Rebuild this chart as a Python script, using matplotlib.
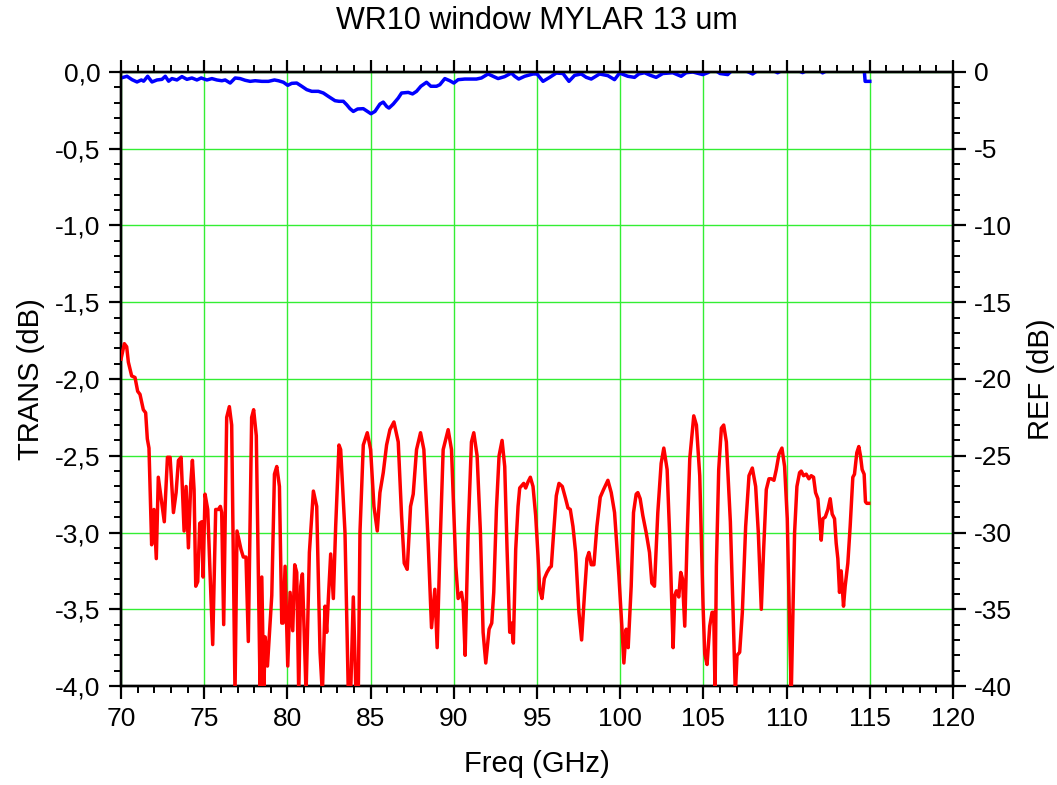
import matplotlib
matplotlib.use("Agg")
import matplotlib.pyplot as plt
from matplotlib.ticker import MultipleLocator, FuncFormatter

plt.rcParams["font.family"] = ["Liberation Sans", "DejaVu Sans"]
plt.rcParams["axes.unicode_minus"] = False

# transmission (left axis, dB)
trans_freq = [70.0, 70.36, 70.66, 70.96, 71.22, 71.36, 71.6, 71.86, 72.16, 72.46, 72.66, 72.86,
              73.06, 73.36, 73.66, 73.96, 74.26, 74.56, 74.82, 75.16, 75.46, 75.76, 76.06, 76.26,
              76.56, 76.86, 77.16, 77.46, 77.76, 78.06, 78.46, 78.86, 79.22, 79.46, 79.76, 80.02,
              80.26, 80.56, 80.86, 81.16, 81.46, 81.86, 82.16, 82.46, 82.86, 83.1, 83.36, 83.56,
              83.76, 83.96, 84.22, 84.56, 84.86, 85.02, 85.26, 85.56, 85.76, 85.96, 86.1, 86.36,
              86.66, 86.86, 87.26, 87.52, 87.76, 88.02, 88.36, 88.62, 88.96, 89.16, 89.46, 89.76,
              90.0, 90.26, 90.66, 91.36, 91.66, 92.06, 92.36, 92.66, 93.06, 93.46, 93.66, 93.9,
              94.26, 94.76, 95.0, 95.36, 95.76, 96.16, 96.56, 96.92, 97.26, 97.66, 97.96, 98.26,
              98.76, 99.26, 99.66, 99.96, 100.46, 100.86, 101.12, 101.46, 101.82, 102.16, 102.56,
              103.16, 103.66, 103.96, 104.36, 104.96, 105.26, 105.6, 106.0, 106.46, 106.8, 107.3,
              107.96, 108.4, 109.0, 109.46, 109.9, 110.5, 110.96, 111.4, 111.9, 112.16, 112.6,
              113.2, 113.8, 114.3, 114.66, 114.72, 115.0]
trans_db = [-0.039, -0.028, -0.05, -0.065, -0.052, -0.06, -0.028, -0.065, -0.052, -0.048, -0.028, -0.06,
            -0.043, -0.052, -0.03, -0.048, -0.039, -0.052, -0.039, -0.052, -0.043, -0.052, -0.057, -0.052,
            -0.072, -0.039, -0.043, -0.054, -0.061, -0.057, -0.061, -0.061, -0.052, -0.057, -0.067, -0.087,
            -0.074, -0.072, -0.093, -0.115, -0.126, -0.126, -0.137, -0.159, -0.187, -0.191, -0.191, -0.213,
            -0.239, -0.257, -0.241, -0.239, -0.261, -0.272, -0.257, -0.209, -0.196, -0.224, -0.235, -0.209,
            -0.17, -0.137, -0.133, -0.143, -0.126, -0.093, -0.067, -0.093, -0.093, -0.083, -0.043, -0.057,
            -0.072, -0.05, -0.046, -0.046, -0.039, -0.013, -0.028, -0.043, -0.03, -0.007, -0.028, -0.046,
            -0.028, -0.013, -0.013, -0.061, -0.035, -0.007, -0.01, -0.061, -0.022, -0.013, -0.035, -0.046,
            -0.013, -0.024, -0.05, -0.007, -0.028, -0.035, -0.013, -0.005, -0.022, -0.035, -0.01,
            -0.005, -0.028, -0.005, 0.0, -0.017, -0.005, 0.02, -0.01, -0.017, 0.02, 0.02,
            -0.013, 0.02, 0.02, -0.005, 0.02, 0.02, -0.004, 0.02, 0.02, -0.006, 0.02,
            0.02, 0.02, 0.02, 0.02, -0.061, -0.061]

# reflection (right axis, dB)
ref_freq = [70.0, 70.2, 70.34, 70.44, 70.64, 70.84, 71.0, 71.14, 71.34, 71.48, 71.58, 71.68, 71.84,
            71.98, 72.12, 72.24, 72.44, 72.6, 72.79, 72.95, 73.15, 73.31, 73.45, 73.61, 73.79, 73.91,
            74.05, 74.19, 74.29, 74.39, 74.49, 74.61, 74.73, 74.85, 74.93, 75.05, 75.21, 75.51, 75.69,
            75.85, 75.97, 76.05, 76.17, 76.35, 76.51, 76.65, 76.85, 76.97, 77.21, 77.35, 77.51, 77.65,
            77.85, 77.97, 78.13, 78.36, 78.46, 78.58, 78.66, 78.8, 79.06, 79.22, 79.36, 79.52, 79.66,
            79.74, 79.86, 80.02, 80.16, 80.32, 80.44, 80.56, 80.68, 80.8, 80.9, 81.12, 81.32, 81.56,
            81.76, 81.96, 82.1, 82.26, 82.36, 82.46, 82.6, 82.76, 82.9, 83.1, 83.2, 83.46, 83.66, 83.8,
            83.96, 84.12, 84.26, 84.36, 84.56, 84.8, 85.0, 85.2, 85.4, 85.56, 85.76, 85.96, 86.16, 86.4,
            86.66, 86.86, 87.02, 87.2, 87.4, 87.56, 87.76, 88.0, 88.2, 88.46, 88.66, 88.86, 89.0, 89.16,
            89.36, 89.66, 89.86, 90.12, 90.26, 90.46, 90.56, 90.68, 90.86, 91.06, 91.2, 91.4, 91.6,
            91.76, 91.92, 92.12, 92.28, 92.4, 92.56, 92.72, 92.9, 93.06, 93.2, 93.36, 93.46, 93.58,
            93.72, 93.86, 93.96, 94.12, 94.2, 94.32, 94.46, 94.6, 94.76, 94.92, 95.06, 95.16, 95.3,
            95.44, 95.6, 95.76, 95.86, 96.0, 96.16, 96.32, 96.52, 96.72, 96.86, 97.0, 97.16, 97.32,
            97.52, 97.68, 97.86, 98.0, 98.12, 98.26, 98.42, 98.6, 98.8, 99.0, 99.26, 99.46, 99.66,
            99.92, 100.12, 100.22, 100.36, 100.48, 100.66, 100.8, 100.96, 101.06, 101.2, 101.36,
            101.56, 101.76, 101.9, 102.06, 102.26, 102.46, 102.62, 102.82, 102.98, 103.18, 103.28,
            103.38, 103.52, 103.64, 103.74, 103.88, 104.02, 104.18, 104.42, 104.58, 104.78, 104.98,
            105.08, 105.22, 105.38, 105.52, 105.62, 105.7, 105.78, 105.92, 106.08, 106.22, 106.38,
            106.62, 106.78, 106.92, 107.02, 107.18, 107.34, 107.54, 107.74, 107.94, 108.14, 108.3,
            108.48, 108.62, 108.78, 108.94, 109.08, 109.24, 109.38, 109.54, 109.72, 109.88, 110.04,
            110.18, 110.28, 110.38, 110.48, 110.62, 110.78, 110.88, 111.02, 111.18, 111.34, 111.48,
            111.62, 111.74, 111.88, 111.98, 112.08, 112.18, 112.32, 112.48, 112.62, 112.74, 112.88,
            112.98, 113.08, 113.18, 113.28, 113.42, 113.52, 113.68, 113.82, 113.98, 114.08, 114.22,
            114.34, 114.44, 114.54, 114.66, 114.74, 114.82, 114.94]
ref_db = [-18.7, -17.7, -17.9, -18.9, -19.8, -19.9, -20.8, -21.0, -22.0, -22.2, -23.9, -24.5, -30.8,
          -28.5, -31.7, -26.4, -28.0, -29.3, -25.1, -25.1, -28.7, -27.4, -25.3, -25.1, -29.9, -27.0,
          -31.0, -26.8, -25.3, -27.2, -33.5, -33.2, -29.4, -29.3, -32.9, -27.5, -28.5, -37.3, -28.5,
          -28.5, -28.3, -28.7, -36.0, -22.5, -21.8, -23.0, -40.5, -29.9, -31.1, -31.6, -31.6, -37.1,
          -22.5, -22.0, -23.7, -40.5, -32.9, -40.5, -36.8, -38.7, -34.1, -26.2, -25.7, -27.0, -35.9,
          -35.9, -32.2, -38.7, -33.9, -36.4, -32.1, -32.6, -40.5, -33.5, -32.7, -40.5, -31.3, -27.3,
          -28.3, -37.8, -40.5, -34.8, -36.5, -34.3, -31.4, -34.3, -29.6, -24.3, -24.6, -30.0, -40.5, -40.5,
          -34.2, -40.5, -40.5, -30.0, -24.3, -23.5, -24.6, -28.3, -29.9, -27.4, -26.1, -24.3, -23.3, -22.8,
          -24.1, -28.9, -32.0, -32.4, -28.3, -27.5, -24.6, -23.5, -24.6, -30.7, -36.2, -33.7, -37.5, -31.3,
          -24.6, -23.3, -24.6, -32.2, -34.3, -33.9, -34.6, -38.0, -30.0, -24.1, -23.5, -25.0, -30.0,
          -36.5, -38.5, -36.3, -35.9, -33.9, -28.5, -25.0, -24.0, -25.7, -31.1, -36.5, -35.9, -37.2,
          -31.1, -28.3, -27.1, -26.9, -26.8, -27.1, -26.7, -26.4, -27.0, -28.9, -31.5, -33.7, -34.3,
          -33.0, -32.6, -32.3, -32.2, -30.0, -27.6, -26.8, -27.0, -27.8, -28.4, -28.5, -29.6, -31.3,
          -35.2, -37.0, -33.9, -31.7, -31.3, -32.1, -32.1, -29.6, -27.7, -27.2, -26.6, -27.4, -28.7,
          -32.8, -36.5, -38.5, -36.3, -37.5, -33.5, -28.7, -27.5, -27.4, -27.8, -28.9,
          -30.0, -31.3, -33.3, -33.5, -28.7, -25.5, -24.5, -25.9, -30.4, -37.5, -34.1,
          -33.8, -34.2, -32.6, -33.0, -36.1, -30.4, -25.2, -22.4, -23.0, -26.3, -34.8,
          -37.9, -38.6, -36.1, -35.2, -35.2, -40.5, -32.2, -25.9, -23.2, -23.0, -24.1,
          -29.3, -35.0, -40.5, -38.0, -37.8, -35.2, -29.6, -26.3, -25.8, -27.0, -30.0,
          -35.0, -31.1, -27.2, -26.5, -26.5, -26.6, -25.9, -24.9, -24.5, -25.7, -29.1,
          -36.1, -40.5, -35.4, -30.0, -27.0, -26.1, -26.0, -26.3, -26.2, -26.5, -26.3,
          -26.4, -27.4, -27.8, -29.2, -30.5, -29.1, -29.0, -28.5, -27.8, -28.8, -29.1,
          -30.7, -31.7, -33.9, -32.5, -34.8, -33.5, -32.0, -29.6, -26.4, -26.2, -24.8,
          -24.4, -25.0, -25.9, -26.2, -28.0, -28.1, -28.1]


def comma_fmt(v, pos):
    return f"{v:.1f}".replace(".", ",")


fig, ax = plt.subplots(figsize=(10.57, 7.85), dpi=100)
fig.subplots_adjust(left=0.1145, right=0.9016, top=0.9083, bottom=0.1261)
ax2 = ax.twinx()

ax.plot(trans_freq, trans_db, color="#0000ff", lw=2.5, zorder=3)
ax2.plot(ref_freq, ref_db, color="#ff0000", lw=2.5, zorder=3)

ax.set_xlim(70, 120)
ax.set_ylim(-4.0, 0.0)
ax2.set_ylim(-40, 0)

ax.xaxis.set_major_locator(MultipleLocator(5))
ax.xaxis.set_minor_locator(MultipleLocator(1))
ax.yaxis.set_major_locator(MultipleLocator(0.5))
ax.yaxis.set_minor_locator(MultipleLocator(0.1))
ax.yaxis.set_major_formatter(FuncFormatter(comma_fmt))
ax2.yaxis.set_major_locator(MultipleLocator(5))
ax2.yaxis.set_minor_locator(MultipleLocator(1))

ax.grid(True, which="major", color="#33ee33", lw=1.0, zorder=0)
ax.set_axisbelow(True)

for a in (ax, ax2):
    for s in a.spines.values():
        s.set_linewidth(1.7)
    a.tick_params(which="major", direction="out", length=9, width=1.6, labelsize=19, pad=6)
    a.tick_params(which="minor", direction="out", length=5, width=1.4)
ax.tick_params(axis="x", which="both", top=True)

ax.set_title("WR10 window MYLAR 13 um", fontsize=22, pad=31)
ax.set_xlabel("Freq (GHz)", fontsize=21, labelpad=14)
ax.set_ylabel("TRANS (dB)", fontsize=21, labelpad=7)
ax2.set_ylabel("REF (dB)", fontsize=21, labelpad=11)

fig.savefig("out.png", dpi=100)
